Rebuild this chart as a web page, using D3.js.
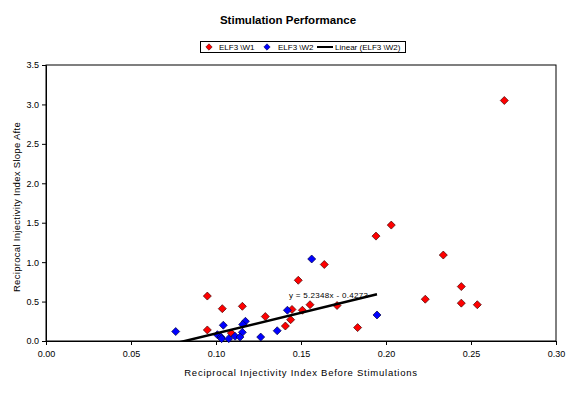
<!DOCTYPE html>
<html lang="en">
<head>
<meta charset="UTF-8">
<title>Stimulation Performance</title>
<style>
  body { margin: 0; background: #fff; }
  svg { display: block; font-family: Arial, "Liberation Sans", sans-serif; }
  .tick text { font-size: 9px; fill: #000; }
  .domain, .tick line { stroke: #000; }
</style>
<script src="https://cdn.jsdelivr.net/npm/d3@7"></script>
</head>
<body>
<svg id="chart" width="576" height="394"></svg>
<script>
// series W1 (red)
const w1X = [0.2696, 0.2031, 0.1941, 0.2337, 0.2443, 0.2231, 0.2443, 0.2537,
             0.1637, 0.1484, 0.0949, 0.1037, 0.1155, 0.1447, 0.1508, 0.1553,
             0.1712, 0.1290, 0.1439, 0.1408, 0.1833, 0.0949, 0.1090];
const w1Y = [3.05, 1.47, 1.33, 1.09, 0.69, 0.53, 0.48, 0.46,
             0.97, 0.77, 0.57, 0.41, 0.44, 0.40, 0.39, 0.46,
             0.45, 0.31, 0.27, 0.19, 0.17, 0.14, 0.10];
// series W2 (blue)
const w2X = [0.1563, 0.1420, 0.1947, 0.1043, 0.1173, 0.1157, 0.1155, 0.1360,
             0.1263, 0.1112, 0.1141, 0.1008, 0.1029, 0.1033, 0.1075, 0.0763];
const w2Y = [1.04, 0.39, 0.33, 0.20, 0.25, 0.21, 0.11, 0.13,
             0.05, 0.06, 0.05, 0.08, 0.05, 0.03, 0.03, 0.12];
// linear trend of W2
const slope = 5.2348, intercept = -0.4273;
const xTicks = [0, 0.05, 0.10, 0.15, 0.20, 0.25, 0.30];
const yTicks = [0, 0.5, 1.0, 1.5, 2.0, 2.5, 3.0, 3.5];

const svg = d3.select('#chart');
const x = d3.scaleLinear().domain([0, 0.3]).range([46, 556]);
const y = d3.scaleLinear().domain([0, 3.5]).range([341, 65]);

svg.append('text').attr('x', 288).attr('y', 24).attr('text-anchor', 'middle')
  .style('font-size', '11.5px').style('font-weight', 'bold').text('Stimulation Performance');

// plot frame
svg.append('rect').attr('x', x(0)).attr('y', y(3.5))
  .attr('width', x(0.3) - x(0)).attr('height', y(0) - y(3.5))
  .attr('fill', 'none').attr('stroke', '#000');

svg.append('g').attr('transform', `translate(0,${y(0)})`)
  .call(d3.axisBottom(x).tickValues(xTicks).tickSize(4).tickPadding(6).tickFormat(d3.format('.2f')));
svg.append('g').attr('transform', `translate(${x(0)},0)`)
  .call(d3.axisLeft(y).tickValues(yTicks).tickSize(4).tickPadding(3).tickFormat(d3.format('.1f')));

svg.append('text').attr('x', 301).attr('y', 376).attr('text-anchor', 'middle')
  .style('font-size', '9.5px').style('letter-spacing', '0.75px')
  .text('Reciprocal Injectivity Index Before Stimulations');
svg.append('text').attr('transform', 'translate(20,207) rotate(-90)').attr('text-anchor', 'middle')
  .style('font-size', '9.5px').style('letter-spacing', '0.3px')
  .text('Reciprocal Injectivity Index Slope Afte');

svg.append('clipPath').attr('id', 'plotclip').append('rect')
  .attr('x', x(0)).attr('y', y(3.5)).attr('width', x(0.3) - x(0)).attr('height', y(0) - y(3.5));

const diamond = 'M0,-4L4,0L0,4L-4,0Z';
const drawSeries = (xs, ys, fill, stroke) => {
  svg.append('g').selectAll('path').data(xs).enter().append('path')
    .attr('d', diamond)
    .attr('transform', (d, i) => `translate(${x(d)},${y(ys[i])})`)
    .attr('fill', fill).attr('stroke', stroke).attr('stroke-width', 0.7);
};
drawSeries(w1X, w1Y, '#ff0000', '#400000');
drawSeries(w2X, w2Y, '#0000ff', '#000040');

// trendline
const tx = d3.extent(w2X);
svg.append('line').attr('clip-path', 'url(#plotclip)')
  .attr('x1', x(tx[0])).attr('y1', y(slope * tx[0] + intercept))
  .attr('x2', x(tx[1])).attr('y2', y(slope * tx[1] + intercept))
  .attr('stroke', '#000').attr('stroke-width', 2.5);

svg.append('text').attr('x', 289).attr('y', 298)
  .style('font-size', '8px').style('letter-spacing', '0.3px')
  .text(`y = ${slope}x - ${Math.abs(intercept)}`);

// legend
const lg = svg.append('g');
lg.append('rect').attr('x', 200.5).attr('y', 41.5).attr('width', 205).attr('height', 11)
  .attr('fill', '#fff').attr('stroke', '#000');
lg.append('path').attr('d', diamond).attr('transform', 'translate(209,47) scale(0.8)')
  .attr('fill', '#ff0000').attr('stroke', '#400000').attr('stroke-width', 0.7);
lg.append('text').attr('x', 219).attr('y', 50).style('font-size', '8px').text('ELF3 \\W1');
lg.append('path').attr('d', diamond).attr('transform', 'translate(267,47) scale(0.8)')
  .attr('fill', '#0000ff').attr('stroke', '#000040').attr('stroke-width', 0.7);
lg.append('text').attr('x', 278).attr('y', 50).style('font-size', '8px').text('ELF3 \\W2');
lg.append('line').attr('x1', 317).attr('x2', 333).attr('y1', 47).attr('y2', 47)
  .attr('stroke', '#000').attr('stroke-width', 2);
lg.append('text').attr('x', 335).attr('y', 50).style('font-size', '8px').text('Linear (ELF3 \\W2)');
</script>
</body>
</html>
